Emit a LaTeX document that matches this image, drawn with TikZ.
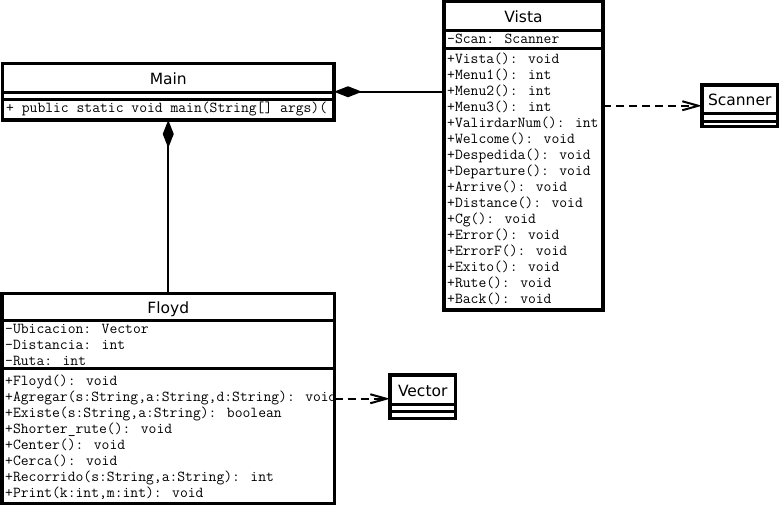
\documentclass[tikz,border=0pt]{standalone}
\usepackage{fontspec}
\newfontfamily\titlefont{DejaVu Sans}
\usetikzlibrary{arrows.meta}
\tikzset{
  classbox/.style={draw, line width=3.5pt, inner sep=0pt, outer sep=0pt, anchor=north west, fill=white},
  sepline/.style={line width=3pt},
  ctitle/.style={font=\titlefont\fontsize{15.5}{16}\selectfont, inner sep=0pt, anchor=base},
  member/.style={font=\ttfamily\fontsize{15.2}{16}\selectfont, inner sep=0pt, anchor=base west},
  comp/.style={line width=2pt, {Diamond[length=28pt,width=11pt]}-},
  dep/.style={line width=2pt, dash pattern=on 8pt off 5pt, -{Straight Barb[length=16pt,width=9pt,line width=2pt]}},
}
\begin{document}
\begin{tikzpicture}[x=1pt,y=-1pt]
\useasboundingbox (0,0) rectangle (780,507);
\fill[white] (0,0) rectangle (780,507);

% ---------- Main ----------
\node[classbox, minimum width=331.5pt, minimum height=56.5pt] (main) at (2.5,63.5) {};
\draw[sepline] (2.5,92) -- (334,92);
\draw[sepline] (2.5,99) -- (334,99);
\node[ctitle] (maint) at (168.25,84) {Main};
\begin{scope}
\clip (2.5,63.5) rectangle (334,120);
\node[member] (mainm) at (6,112.5) {+ public static void main(String[] args)(};
\end{scope}
\draw[line width=3.5pt] (2.5,63.5) rectangle (334,120);

% ---------- Vista ----------
\node[classbox, minimum width=159pt, minimum height=308.5pt] (vista) at (444,1.5) {};
\draw[sepline] (444,30) -- (603,30);
\draw[sepline] (444,48.5) -- (603,48.5);
\node[ctitle] (vistat) at (523.5,22) {Vista};
\node[member] (vistaa) at (447,43.5) {-Scan: Scanner};
\node[member] (v1) at (447,63.5) {+Vista(): void};
\node[member] (v2) at (447,79.5) {+Menu1(): int};
\node[member] (v3) at (447,95.5) {+Menu2(): int};
\node[member] (v4) at (447,111.5) {+Menu3(): int};
\node[member] (v5) at (447,127.5) {+ValirdarNum(): int};
\node[member] (v6) at (447,143.5) {+Welcome(): void};
\node[member] (v7) at (447,159.5) {+Despedida(): void};
\node[member] (v8) at (447,175.5) {+Departure(): void};
\node[member] (v9) at (447,191.5) {+Arrive(): void};
\node[member] (v10) at (447,207.5) {+Distance(): void};
\node[member] (v11) at (447,223.5) {+Cg(): void};
\node[member] (v12) at (447,239.5) {+Error(): void};
\node[member] (v13) at (447,255.5) {+ErrorF(): void};
\node[member] (v14) at (447,271.5) {+Exito(): void};
\node[member] (v15) at (447,287.5) {+Rute(): void};
\node[member] (v16) at (447,303.5) {+Back(): void};
\draw[line width=3.5pt] (444,1.5) rectangle (603,310);

% ---------- Floyd ----------
\node[classbox, minimum width=332.5pt, minimum height=210pt] (floyd) at (2,293.5) {};
\draw[sepline] (2,320.5) -- (334.5,320.5);
\draw[sepline] (2,368.5) -- (334.5,368.5);
\node[ctitle] (floydt) at (168.25,313) {Floyd};
\begin{scope}
\clip (2,293.5) rectangle (334.5,503.5);
\node[member] (f1) at (5,333.5) {-Ubicacion: Vector};
\node[member] (f2) at (5,349.5) {-Distancia: int};
\node[member] (f3) at (5,365.5) {-Ruta: int};
\node[member] (f4) at (5,385.5) {+Floyd(): void};
\node[member] (f5) at (5,401.5) {+Agregar(s:String,a:String,d:String): void};
\node[member] (f6) at (5,417.5) {+Existe(s:String,a:String): boolean};
\node[member] (f7) at (5,433.5) {+Shorter\_rute(): void};
\node[member] (f8) at (5,449.5) {+Center(): void};
\node[member] (f9) at (5,465.5) {+Cerca(): void};
\node[member] (f10) at (5,481.5) {+Recorrido(s:String,a:String): int};
\node[member] (f11) at (5,497.5) {+Print(k:int,m:int): void};
\end{scope}
\draw[line width=3.5pt] (2,293.5) rectangle (334.5,503.5);

% ---------- Scanner ----------
\node[classbox, minimum width=75.5pt, minimum height=41.5pt] (scanner) at (702,85) {};
\draw[sepline] (702,113.5) -- (777.5,113.5);
\draw[sepline] (702,121) -- (777.5,121);
\node[ctitle] (scannert) at (739.75,105) {Scanner};

% ---------- Vector ----------
\node[classbox, minimum width=65.5pt, minimum height=43.5pt] (vector) at (390,375) {};
\draw[sepline] (390,404) -- (455.5,404);
\draw[sepline] (390,411.5) -- (455.5,411.5);
\node[ctitle] (vectort) at (422.75,396) {Vector};

% ---------- connectors ----------
\draw[comp] (main.east) -- (main.east -| vista.west);
\draw[comp] (main.south) -- (floyd.north);
\draw[dep] (scanner.west -| vista.east) -- (scanner.west);
\coordinate (vecin) at ([yshift=-2pt]vector.west);
\draw[dep] (vecin -| floyd.east) -- (vecin);
\end{tikzpicture}
\end{document}
